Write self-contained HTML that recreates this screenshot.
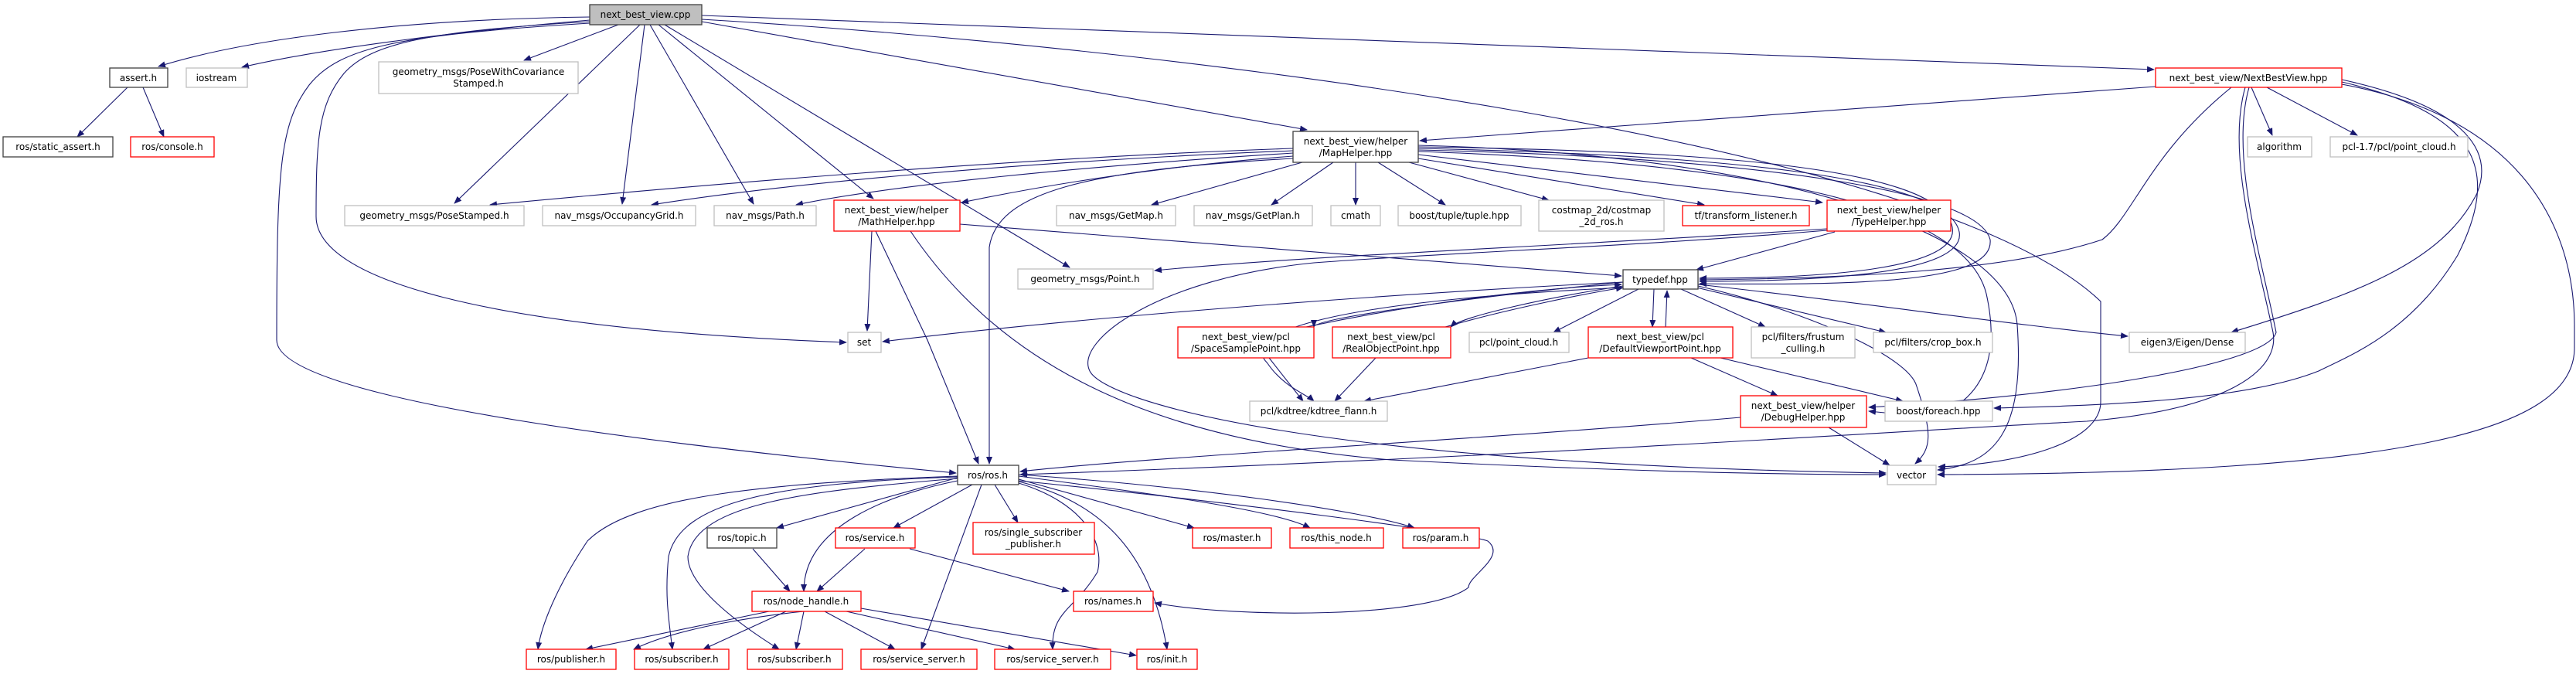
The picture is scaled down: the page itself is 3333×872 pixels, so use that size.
<!DOCTYPE html>
<html><head><meta charset="utf-8"><style>
html,body{margin:0;padding:0;background:#fff;}
svg{display:block;}
text{font-family:"DejaVu Sans","Liberation Sans",sans-serif;font-size:12px;fill:#000;text-anchor:middle;}
.e{fill:none;stroke:#191970;stroke-width:1.1;marker-end:url(#a);}
.k{stroke:#404040;stroke-width:1.3;fill:#fff;}
.r{stroke:#ff0000;stroke-width:1.3;fill:#fff;}
.g{stroke:#bfbfbf;stroke-width:1.3;fill:#fff;}
</style></head><body>
<svg width="3333" height="872" viewBox="0 0 3333 872" xmlns="http://www.w3.org/2000/svg">
<defs><marker id="a" markerWidth="10" markerHeight="8" refX="9" refY="4" orient="auto" markerUnits="userSpaceOnUse"><path d="M0,0 L10,4 L0,8 z" fill="#191970"/></marker></defs>

<path class="e" d="M763,22 C520,25 320,50 205,86"/>
<path class="e" d="M763,26 C600,40 420,62 313,87"/>
<path class="e" d="M800,32 L678,78"/>
<path class="e" d="M828,32 L588,263"/>
<path class="e" d="M834,32 L805,264"/>
<path class="e" d="M841,32 L975,264"/>
<path class="e" d="M852,32 L1130,257"/>
<path class="e" d="M860,32 L1384,346"/>
<path class="e" d="M763,28 C560,40 480,55 445,95 C412,135 409,180 409,280 C409,360 620,425 1095,443"/>
<path class="e" d="M763,30 C520,45 440,60 400,110 C362,160 358,220 358,440 C358,520 900,580 1237,612"/>
<path class="e" d="M908,20 L2787,90"/>
<path class="e" d="M908,25 C1500,60 2500,180 2718,390 L2718,520 C2718,570 2620,600 2508,604"/>
<path class="e" d="M908,28 L1691,168"/>

<path class="e" d="M1673,192 C1300,205 900,240 634,265"/>
<path class="e" d="M1673,195 C1300,210 1000,240 843,265"/>
<path class="e" d="M1673,198 C1400,215 1150,240 1030,265"/>
<path class="e" d="M1673,202 C1500,215 1350,240 1244,262"/>
<path class="e" d="M1685,210 L1490,265"/>
<path class="e" d="M1725,210 L1645,265"/>
<path class="e" d="M1754,210 L1754,265"/>
<path class="e" d="M1783,210 L1870,265"/>
<path class="e" d="M1823,210 L2004,259"/>
<path class="e" d="M1835,205 L2205,265"/>
<path class="e" d="M1835,200 L2358,262"/>
<path class="e" d="M1673,205 C1400,220 1290,250 1280,320 L1280,600"/>
<path class="e" d="M1835,190 C2200,195 2500,215 2525,290 C2545,350 2350,360 2199,360"/>
<path class="e" d="M1835,192 C2200,200 2520,225 2535,300 C2545,355 2350,364 2199,364"/>
<path class="e" d="M1835,194 C2300,205 2560,250 2575,310 C2580,360 2450,370 2199,367"/>
<path class="e" d="M1835,196 C2250,210 2540,260 2570,380 C2590,470 2560,520 2500,540 L2418,532"/>
<path class="e" d="M1835,188 C2300,200 2600,300 2610,420 C2620,560 2580,600 2507,608"/>

<path class="e" d="M1242,290 L2098,357"/>
<path class="e" d="M1128,299 L1122,428"/>
<path class="e" d="M1133,299 L1200,440 L1266,600"/>
<path class="e" d="M1178,299 C1300,480 1500,570 1800,595 C2100,610 2300,614 2440,614"/>

<path class="e" d="M2374,300 L2195,349"/>
<path class="e" d="M2364,296 C2000,320 1700,330 1494,350"/>
<path class="e" d="M2364,298 C2100,320 1900,325 1700,340 C1500,360 1390,440 1410,480 C1430,520 1700,600 2440,612"/>

<path class="e" d="M2789,112 L1837,182"/>
<path class="e" d="M2887,113 C2780,200 2760,280 2720,310 C2600,350 2400,360 2199,362"/>
<path class="e" d="M2913,113 L2940,175"/>
<path class="e" d="M2933,113 L3050,175"/>
<path class="e" d="M3030,103 C3200,140 3225,200 3205,250 C3160,340 3050,380 2887,430"/>
<path class="e" d="M2905,113 C2880,200 2920,330 2941,430 C2950,480 2880,530 2700,545 C2500,555 2000,590 1320,614"/>
<path class="e" d="M2910,113 C2885,200 2925,330 2945,430 C2935,470 2700,510 2418,527"/>
<path class="e" d="M3030,106 C3220,150 3230,230 3180,330 C3120,430 3040,460 3000,480 C2900,520 2700,525 2580,528"/>
<path class="e" d="M3030,109 C3250,150 3330,280 3331,420 L3331,450 C3331,560 3100,612 2507,614"/>

<path class="e" d="M2100,365 C1800,380 1400,410 1142,442"/>
<path class="e" d="M2100,365 C1950,380 1700,410 1700,423"/>
<path class="e" d="M1690,423 C1800,400 1950,375 2098,368"/>
<path class="e" d="M2100,370 C2000,385 1890,410 1877,423"/>
<path class="e" d="M1870,423 C1950,400 2050,380 2100,372"/>
<path class="e" d="M2120,374 L2010,430"/>
<path class="e" d="M2140,374 L2138,423"/>
<path class="e" d="M2155,423 L2157,376"/>
<path class="e" d="M2175,374 L2284,423"/>
<path class="e" d="M2195,372 L2440,430"/>
<path class="e" d="M2197,368 C2400,390 2600,420 2753,435"/>
<path class="e" d="M2100,372 C1720,390 1600,430 1640,470 C1660,500 1690,510 1700,519"/>
<path class="e" d="M2197,370 C2330,400 2470,460 2480,500 C2500,560 2500,580 2478,600"/>

<path class="e" d="M1642,463 L1686,519"/>
<path class="e" d="M1780,463 L1727,519"/>
<path class="e" d="M2055,463 L1765,519"/>
<path class="e" d="M2188,463 L2300,512"/>
<path class="e" d="M2226,463 L2462,519"/>

<path class="e" d="M2252,540 C1900,570 1500,590 1320,610"/>
<path class="e" d="M2366,553 L2445,602"/>

<path class="e" d="M1239,618 L1005,683"/>
<path class="e" d="M1258,627 L1156,683"/>
<path class="e" d="M1287,627 L1317,676"/>
<path class="e" d="M1318,620 L1545,683"/>
<path class="e" d="M1318,616 C1500,640 1650,660 1695,683"/>
<path class="e" d="M1318,614 C1550,630 1760,660 1830,683"/>
<path class="e" d="M1318,622 C1600,650 1900,690 1925,700 C1950,720 1900,745 1900,760 C1850,800 1600,800 1494,780"/>
<path class="e" d="M1239,622 C1150,640 1040,680 1040,765"/>
<path class="e" d="M1239,616 C1000,625 820,640 760,700 C720,760 700,810 696,840"/>
<path class="e" d="M1239,617 C1000,625 880,650 865,720 C860,770 865,800 870,840"/>
<path class="e" d="M1239,619 C1050,635 900,650 890,720 C890,760 960,810 1008,840"/>
<path class="e" d="M1270,627 L1192,840"/>
<path class="e" d="M1318,625 C1400,650 1430,700 1420,740 C1390,790 1360,790 1362,840"/>
<path class="e" d="M1318,623 C1430,650 1490,720 1510,840"/>

<path class="e" d="M974,710 L1022,765"/>
<path class="e" d="M1119,710 L1057,765"/>
<path class="e" d="M1177,710 L1383,765"/>
<path class="e" d="M995,791 L758,840"/>
<path class="e" d="M1017,791 L910,840"/>
<path class="e" d="M1040,791 L1030,840"/>
<path class="e" d="M1067,791 L1158,840"/>
<path class="e" d="M1095,791 L1313,840"/>
<path class="e" d="M1114,787 L1470,848"/>
<path class="e" d="M1040,791 C1000,795 880,810 820,840"/>

<path class="e" d="M165,113 L100,177"/>
<path class="e" d="M185,113 L212,177"/>

<rect x="763" y="6" width="145" height="26" fill="#bfbfbf" stroke="#404040" stroke-width="1.3"/><text x="835" y="23">next_best_view.cpp</text>
<rect class="k" x="142" y="88" width="75" height="25"/><text x="179" y="105">assert.h</text>
<rect class="g" x="241" y="88" width="79" height="25"/><text x="280" y="105">iostream</text>
<rect class="g" x="490" y="80" width="258" height="41"/><text x="619" y="97">geometry_msgs/PoseWithCovariance</text><text x="619" y="112">Stamped.h</text>
<rect class="k" x="4" y="177" width="142" height="26"/><text x="75" y="194">ros/static_assert.h</text>
<rect class="r" x="169" y="177" width="108" height="26"/><text x="223" y="194">ros/console.h</text>
<rect class="g" x="446" y="266" width="232" height="26"/><text x="562" y="283">geometry_msgs/PoseStamped.h</text>
<rect class="g" x="702" y="266" width="198" height="26"/><text x="801" y="283">nav_msgs/OccupancyGrid.h</text>
<rect class="g" x="924" y="266" width="132" height="26"/><text x="990" y="283">nav_msgs/Path.h</text>
<rect class="r" x="1079" y="259" width="163" height="40"/><text x="1160" y="276">next_best_view/helper</text><text x="1160" y="291">/MathHelper.hpp</text>
<rect class="g" x="1367" y="266" width="154" height="26"/><text x="1444" y="283">nav_msgs/GetMap.h</text>
<rect class="g" x="1545" y="266" width="153" height="26"/><text x="1621" y="283">nav_msgs/GetPlan.h</text>
<rect class="g" x="1317" y="348" width="175" height="26"/><text x="1404" y="365">geometry_msgs/Point.h</text>
<rect class="g" x="1097" y="430" width="43" height="26"/><text x="1118" y="447">set</text>
<rect class="k" x="1673" y="170" width="162" height="40"/><text x="1754" y="187">next_best_view/helper</text><text x="1754" y="202">/MapHelper.hpp</text>
<rect class="g" x="1722" y="266" width="64" height="26"/><text x="1754" y="283">cmath</text>
<rect class="g" x="1809" y="266" width="159" height="26"/><text x="1888" y="283">boost/tuple/tuple.hpp</text>
<rect class="g" x="1991" y="259" width="162" height="40"/><text x="2072" y="276">costmap_2d/costmap</text><text x="2072" y="291">_2d_ros.h</text>
<rect class="r" x="2177" y="266" width="164" height="26"/><text x="2259" y="283">tf/transform_listener.h</text>
<rect class="r" x="2364" y="259" width="160" height="40"/><text x="2444" y="276">next_best_view/helper</text><text x="2444" y="291">/TypeHelper.hpp</text>
<rect class="k" x="2100" y="349" width="97" height="25"/><text x="2148" y="366">typedef.hpp</text>
<rect class="r" x="2789" y="88" width="241" height="25"/><text x="2909" y="105">next_best_view/NextBestView.hpp</text>
<rect class="g" x="2908" y="177" width="83" height="26"/><text x="2949" y="194">algorithm</text>
<rect class="g" x="3015" y="177" width="178" height="26"/><text x="3104" y="194">pcl-1.7/pcl/point_cloud.h</text>

<rect class="r" x="1524" y="423" width="176" height="40"/><text x="1612" y="440">next_best_view/pcl</text><text x="1612" y="455">/SpaceSamplePoint.hpp</text>
<rect class="r" x="1724" y="423" width="153" height="40"/><text x="1800" y="440">next_best_view/pcl</text><text x="1800" y="455">/RealObjectPoint.hpp</text>
<rect class="g" x="1901" y="430" width="129" height="26"/><text x="1965" y="447">pcl/point_cloud.h</text>
<rect class="r" x="2055" y="423" width="187" height="40"/><text x="2148" y="440">next_best_view/pcl</text><text x="2148" y="455">/DefaultViewportPoint.hpp</text>
<rect class="g" x="2266" y="423" width="134" height="40"/><text x="2333" y="440">pcl/filters/frustum</text><text x="2333" y="455">_culling.h</text>
<rect class="g" x="2424" y="430" width="154" height="26"/><text x="2501" y="447">pcl/filters/crop_box.h</text>
<rect class="g" x="2755" y="430" width="150" height="26"/><text x="2830" y="447">eigen3/Eigen/Dense</text>
<rect class="g" x="1617" y="519" width="178" height="26"/><text x="1706" y="536">pcl/kdtree/kdtree_flann.h</text>
<rect class="r" x="2252" y="512" width="163" height="41"/><text x="2333" y="529">next_best_view/helper</text><text x="2333" y="544">/DebugHelper.hpp</text>
<rect class="g" x="2439" y="519" width="139" height="26"/><text x="2508" y="536">boost/foreach.hpp</text>
<rect class="g" x="2442" y="602" width="63" height="25"/><text x="2473" y="619">vector</text>
<rect class="k" x="1239" y="602" width="79" height="25"/><text x="1278" y="619">ros/ros.h</text>
<rect class="k" x="915" y="683" width="90" height="26"/><text x="960" y="700">ros/topic.h</text>
<rect class="r" x="1081" y="683" width="103" height="26"/><text x="1132" y="700">ros/service.h</text>
<rect class="r" x="1259" y="676" width="157" height="41"/><text x="1337" y="693">ros/single_subscriber</text><text x="1337" y="708">_publisher.h</text>
<rect class="r" x="1543" y="683" width="102" height="26"/><text x="1594" y="700">ros/master.h</text>
<rect class="r" x="1669" y="683" width="121" height="26"/><text x="1729" y="700">ros/this_node.h</text>
<rect class="r" x="1815" y="683" width="99" height="26"/><text x="1864" y="700">ros/param.h</text>
<rect class="r" x="973" y="765" width="141" height="26"/><text x="1043" y="782">ros/node_handle.h</text>
<rect class="r" x="1389" y="765" width="103" height="26"/><text x="1440" y="782">ros/names.h</text>
<rect class="r" x="681" y="840" width="116" height="26"/><text x="739" y="857">ros/publisher.h</text>
<rect class="r" x="821" y="840" width="122" height="26"/><text x="882" y="857">ros/subscriber.h</text>
<rect class="r" x="967" y="840" width="123" height="26"/><text x="1028" y="857">ros/subscriber.h</text>
<rect class="r" x="1114" y="840" width="150" height="26"/><text x="1189" y="857">ros/service_server.h</text>
<rect class="r" x="1287" y="840" width="150" height="26"/><text x="1362" y="857">ros/service_server.h</text>
<rect class="r" x="1471" y="840" width="78" height="26"/><text x="1510" y="857">ros/init.h</text>
</svg>
</body></html>
